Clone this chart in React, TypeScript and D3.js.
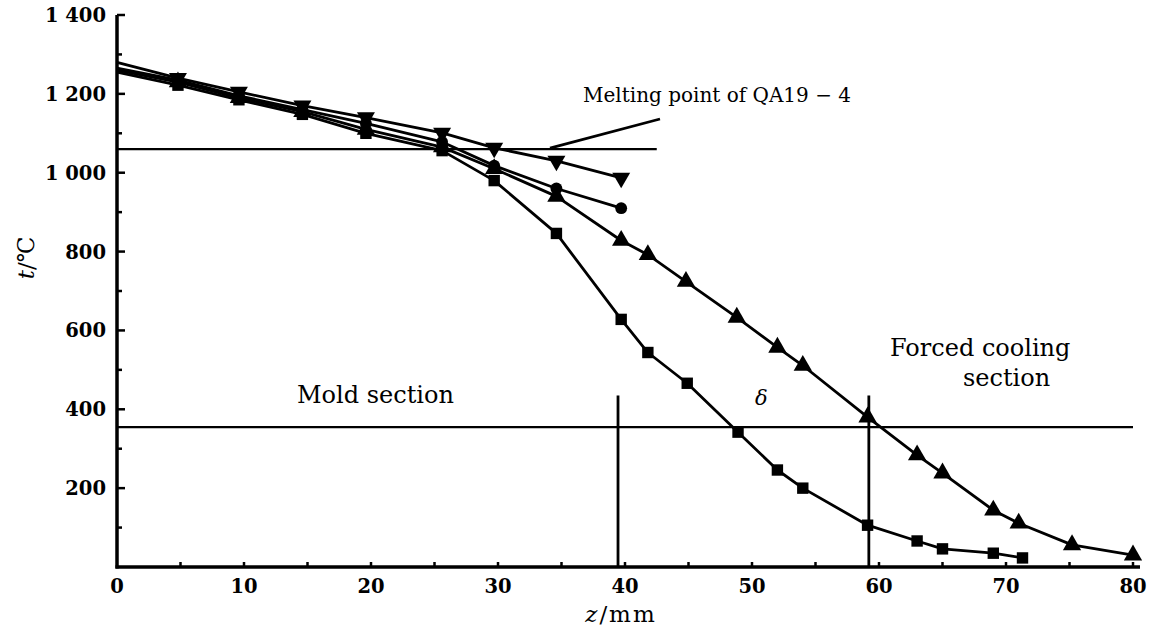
import { useEffect, useRef } from "react";
import * as d3 from "d3";

// temperature profiles t (°C) along z (mm)
const zShort = [0, 4.8, 9.6, 14.6, 19.6, 25.6, 29.7, 34.6, 39.7];
const tDown = [1280, 1240, 1205, 1170, 1140, 1101, 1063, 1030, 987];
const tCircle = [1265, 1235, 1195, 1160, 1125, 1078, 1018, 960, 910];

const zUp = [0, 4.8, 9.6, 14.6, 19.6, 25.6, 29.7, 34.6, 39.7, 41.8, 44.8, 48.8, 52, 54, 59.1, 63, 65, 69, 71, 75.2, 80];
const tUp = [1260, 1230, 1190, 1155, 1110, 1065, 1010, 940, 828, 792, 724, 633, 557, 511, 380, 284, 238, 144, 111, 56, 30];

const zSquare = [0, 4.8, 9.6, 14.6, 19.6, 25.6, 29.7, 34.6, 39.7, 41.8, 44.9, 48.9, 52, 54, 59.1, 63, 65, 69, 71.3];
const tSquare = [1255, 1222, 1185, 1148, 1100, 1056, 980, 846, 628, 544, 466, 342, 246, 200, 106, 66, 46, 35, 23];

const xTicks = [0, 10, 20, 30, 40, 50, 60, 70, 80];
const yTicks = [200, 400, 600, 800, 1000, 1200, 1400];
const yTickLabels = ["200", "400", "600", "800", "1 000", "1 200", "1 400"];

// reference lines
const meltingT = 1060;
const meltingEndZ = 42.5;
const solidT = 355;
const moldEndZ = 39.45;
const coolZ = 59.2;
const vLineTopT = 435;

const width = 1153;
const height = 631;

const App = () => {
  const ref = useRef<SVGSVGElement>(null);

  useEffect(() => {
    const svg = d3.select(ref.current);
    svg.selectAll("*").remove();

    const x = d3.scaleLinear([0, 80], [117, 1133]);
    const y = d3.scaleLinear([0, 1400], [567, 15]);
    const serif = "'DejaVu Serif', serif";

    // axes lines
    svg.append("line")
      .attr("x1", x(0)).attr("x2", x(0))
      .attr("y1", y(1400)).attr("y2", y(0) + 1.5)
      .attr("stroke", "#000").attr("stroke-width", 3.5);
    svg.append("line")
      .attr("x1", x(0) - 1.5).attr("x2", x(80) + 7)
      .attr("y1", y(0)).attr("y2", y(0))
      .attr("stroke", "#000").attr("stroke-width", 3.5);

    // y ticks, every 100, longer every 200
    const yAll = d3.range(100, 1401, 100);
    svg.append("g").selectAll("line").data(yAll).join("line")
      .attr("x1", x(0))
      .attr("x2", (d) => x(0) + (d % 200 === 0 ? 8 : 5))
      .attr("y1", (d) => y(d)).attr("y2", (d) => y(d))
      .attr("stroke", "#000").attr("stroke-width", 2.5);

    svg.append("g").selectAll("text").data(yTicks).join("text")
      .attr("x", 106)
      .attr("y", (d) => y(d))
      .attr("dy", "0.36em")
      .attr("text-anchor", "end")
      .attr("font-family", serif)
      .attr("font-weight", "bold")
      .attr("font-size", 19.5)
      .text((d, i) => yTickLabels[i]);

    // x ticks, every 5 mm
    const xAll = d3.range(5, 81, 5);
    svg.append("g").selectAll("line").data(xAll).join("line")
      .attr("x1", (d) => x(d)).attr("x2", (d) => x(d))
      .attr("y1", y(0)).attr("y2", y(0) - 5)
      .attr("stroke", "#000").attr("stroke-width", 2.5);

    svg.append("g").selectAll("text").data(xTicks).join("text")
      .attr("x", (d) => x(d))
      .attr("y", 593)
      .attr("text-anchor", "middle")
      .attr("font-family", serif)
      .attr("font-weight", "bold")
      .attr("font-size", 19.5)
      .text((d) => d);

    // axis titles
    const yt = svg.append("text")
      .attr("transform", "translate(34,258) rotate(-90)")
      .attr("text-anchor", "middle")
      .attr("font-family", serif)
      .attr("font-size", 23);
    yt.append("tspan").attr("font-style", "italic").text("t");
    yt.append("tspan").text("/℃");

    const xt = svg.append("text")
      .attr("x", 621).attr("y", 622)
      .attr("text-anchor", "middle")
      .attr("font-family", serif)
      .attr("font-size", 23)
      .attr("letter-spacing", 2);
    xt.append("tspan").attr("font-style", "italic").text("z");
    xt.append("tspan").text("/mm");

    // reference lines
    svg.append("line")
      .attr("x1", x(0)).attr("x2", x(meltingEndZ))
      .attr("y1", y(meltingT)).attr("y2", y(meltingT))
      .attr("stroke", "#000").attr("stroke-width", 2.2);
    svg.append("line")
      .attr("x1", x(0)).attr("x2", x(80))
      .attr("y1", y(solidT)).attr("y2", y(solidT))
      .attr("stroke", "#000").attr("stroke-width", 2.2);
    [moldEndZ, coolZ].forEach((z) => {
      svg.append("line")
        .attr("x1", x(z)).attr("x2", x(z))
        .attr("y1", y(vLineTopT)).attr("y2", y(0))
        .attr("stroke", "#000").attr("stroke-width", 2.8);
    });

    // melting point leader
    svg.append("line")
      .attr("x1", 660).attr("y1", 119)
      .attr("x2", 550).attr("y2", y(meltingT) - 1)
      .attr("stroke", "#000").attr("stroke-width", 2.8);

    // series
    const line = d3.line<[number, number]>()
      .x((d) => x(d[0]))
      .y((d) => y(d[1]));

    const series = [
      { z: zShort, t: tDown, sym: d3.symbolTriangle, rot: 180, size: 140 },
      { z: zShort, t: tCircle, sym: d3.symbolCircle, rot: 0, size: 110 },
      { z: zUp, t: tUp, sym: d3.symbolTriangle, rot: 0, size: 145 },
      { z: zSquare, t: tSquare, sym: d3.symbolSquare, rot: 0, size: 130 },
    ];

    series.forEach((s) => {
      const pts: [number, number][] = s.z.map((z, i) => [z, s.t[i]]);
      svg.append("path")
        .attr("d", line(pts))
        .attr("fill", "none")
        .attr("stroke", "#000")
        .attr("stroke-width", 2.8)
        .attr("stroke-linejoin", "round");
      svg.append("g").selectAll("path").data(pts.slice(1)).join("path")
        .attr("d", d3.symbol().type(s.sym).size(s.size)())
        .attr("transform", (d) => `translate(${x(d[0])},${y(d[1])}) rotate(${s.rot})`)
        .attr("fill", "#000");
    });

    // annotations
    const note = (tx: number, ty: number, str: string, size: number, italic = false) =>
      svg.append("text")
        .attr("x", tx).attr("y", ty)
        .attr("font-family", serif)
        .attr("font-size", size)
        .attr("font-style", italic ? "italic" : "normal")
        .text(str);

    note(583, 102, "Melting point of QA19 − 4", 20);
    note(297, 403, "Mold section", 24);
    note(755, 405, "δ", 21, true);
    note(890, 356, "Forced cooling", 24);
    note(963, 386, "section", 24);
  }, []);

  return (
    <svg
      ref={ref}
      width={width}
      height={height}
      style={{ position: "absolute", left: 0, top: 0, background: "#fff" }}
    />
  );
};

export default App;
